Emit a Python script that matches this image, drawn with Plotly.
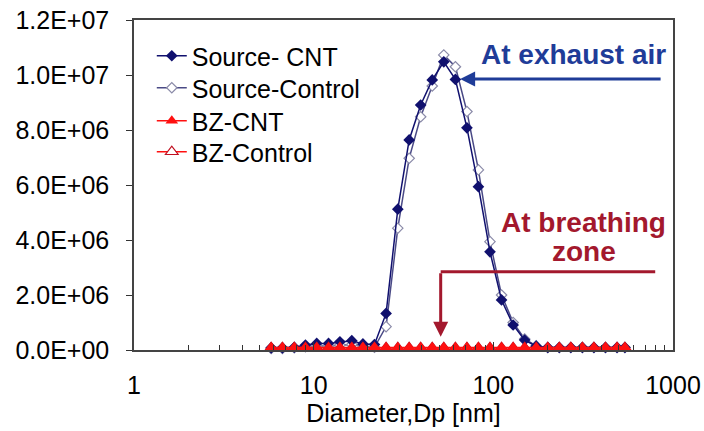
import plotly.graph_objects as go

# Particle diameters (nm), SMPS bin midpoints
diameters = [5.8, 6.7, 7.8, 9.0, 10.4, 12.1, 14.0, 16.3, 18.8, 21.8,
             25.3, 29.4, 34.0, 39.4, 45.7, 53.0, 61.5, 71.3, 82.6, 95.8,
             111.1, 128.9, 149.4, 173.2, 200.9, 232.9, 270.0, 313.1, 363.0,
             420.9, 488.1, 540.0]

source_cnt = [0.08e6, 0.08e6, 0.1e6, 0.18e6, 0.24e6, 0.24e6, 0.3e6, 0.34e6, 0.22e6, 0.2e6,
              1.33e6, 5.12e6, 7.64e6, 8.91e6, 9.82e6, 10.48e6, 9.84e6, 8.08e6, 5.94e6, 3.57e6,
              1.82e6, 0.91e6, 0.36e6, 0.14e6, 0.09e6, 0.09e6, 0.09e6, 0.09e6, 0.09e6,
              0.09e6, 0.09e6, 0.09e6]

source_control = [0.06e6, 0.06e6, 0.08e6, 0.12e6, 0.15e6, 0.15e6, 0.18e6, 0.2e6, 0.15e6, 0.1e6,
                  0.85e6, 4.43e6, 6.97e6, 8.48e6, 9.6e6, 10.73e6, 10.3e6, 8.67e6, 6.55e6, 3.94e6,
                  2.0e6, 1.0e6, 0.4e6, 0.15e6, 0.09e6, 0.09e6, 0.09e6, 0.09e6, 0.09e6,
                  0.09e6, 0.09e6, 0.09e6]

bz_cnt = [0.09e6, 0.09e6, 0.09e6, 0.09e6, 0.09e6, 0.09e6, 0.09e6, 0.09e6,
          0.09e6, 0.09e6, 0.09e6, 0.09e6, 0.09e6, 0.09e6, 0.09e6, 0.09e6,
          0.09e6, 0.09e6, 0.09e6, 0.09e6, 0.09e6, 0.09e6, 0.09e6, 0.09e6,
          0.09e6, 0.09e6, 0.09e6, 0.09e6, 0.09e6, 0.09e6, 0.09e6, 0.09e6]

bz_control = [0.08e6, 0.08e6, 0.08e6, 0.08e6, 0.08e6, 0.08e6, 0.08e6, 0.08e6,
              0.08e6, 0.08e6, 0.08e6, 0.08e6, 0.08e6, 0.08e6, 0.08e6, 0.08e6,
              0.08e6, 0.08e6, 0.08e6, 0.08e6, 0.08e6, 0.08e6, 0.08e6, 0.08e6,
              0.08e6, 0.08e6, 0.08e6, 0.08e6, 0.08e6, 0.08e6, 0.08e6, 0.08e6]

y_tick_vals = [0, 2e6, 4e6, 6e6, 8e6, 10e6, 12e6]
y_tick_text = ["0.0E+00", "2.0E+06", "4.0E+06", "6.0E+06", "8.0E+06", "1.0E+07", "1.2E+07"]
x_tick_vals = [1, 10, 100, 1000]
x_tick_text = ["1", "10", "100", "1000"]
x_minor_vals = [m * d for d in (1, 10, 100) for m in range(2, 10)]

FONT = "Liberation Sans, Arial, sans-serif"
NAVY = "#10106e"
CTRL = "#4a4a86"
RED = "#ff1010"
DARKRED = "#c01020"

fig = go.Figure()

fig.add_trace(go.Scatter(
    x=diameters, y=source_control, name="Source-Control", mode="lines+markers",
    line=dict(color=CTRL, width=1.5), cliponaxis=False,
    marker=dict(symbol="diamond", size=8, color="white", line=dict(color="#8a8aa8", width=1.2)),
    legend="legend2"))
fig.add_trace(go.Scatter(
    x=diameters, y=source_cnt, name="Source- CNT", mode="lines+markers",
    line=dict(color=NAVY, width=1.5), cliponaxis=False,
    marker=dict(symbol="diamond", size=9, color=NAVY, line=dict(width=0)),
    legend="legend"))
fig.add_trace(go.Scatter(
    x=diameters, y=bz_control, name="BZ-Control", mode="lines+markers",
    line=dict(color=RED, width=1.5), cliponaxis=False,
    marker=dict(symbol="triangle-up", size=11, color="white", line=dict(color=DARKRED, width=1.2)),
    legend="legend4"))
fig.add_trace(go.Scatter(
    x=diameters, y=bz_cnt, name="BZ-CNT", mode="lines+markers",
    line=dict(color=RED, width=1.5), cliponaxis=False,
    marker=dict(symbol="triangle-up", size=11, color=RED, line=dict(width=0)),
    legend="legend3"))

def leg(ypix):
    return dict(x=0.033, y=(350 - ypix) / 330, xanchor="left", yanchor="middle",
                bgcolor="rgba(255,255,255,0)", font=dict(size=25, family=FONT),
                itemwidth=30)

fig.update_layout(
    width=704, height=431,
    margin=dict(l=134, r=31, t=20, b=81, autoexpand=False),
    paper_bgcolor="white", plot_bgcolor="white",
    font=dict(family=FONT, size=25, color="black"),
    showlegend=True,
    legend=leg(56), legend2=leg(88), legend3=leg(121), legend4=leg(152),
    xaxis=dict(type="log", range=[0, 3], tickmode="array", tickvals=x_tick_vals,
               ticktext=x_tick_text, ticks="inside", ticklen=8, tickcolor="#333",
               showgrid=False, zeroline=False, showline=True, linecolor="#444",
               linewidth=1.5, mirror=True, ticklabelstandoff=12, automargin=False,
               minor=dict(tickmode="array", tickvals=x_minor_vals, ticks="inside",
                          ticklen=5, tickcolor="#333", showgrid=False),
               title=dict(text="Diameter,Dp [nm]", font=dict(size=25), standoff=0)),
    yaxis=dict(range=[0, 1.2e7], tickmode="array", tickvals=y_tick_vals,
               ticktext=y_tick_text, ticks="outside", ticklen=6, tickcolor="#333",
               showgrid=False, zeroline=False, showline=True, linecolor="#444",
               linewidth=1.5, mirror=True, ticklabelstandoff=12, automargin=False),
)

BLUE = "#1f3c98"
BZRED = "#a3182d"

# "At exhaust air" label and arrow
fig.add_annotation(text="<b>At exhaust air</b>", xref="paper", yref="paper",
                   x=0.816, y=0.894, xanchor="center", yanchor="middle", showarrow=False,
                   font=dict(size=28, color=BLUE, family=FONT))
fig.add_annotation(text="", xref="paper", yref="paper", x=0.605, y=0.821,
                   ax=202, ay=0, showarrow=True, arrowhead=2, arrowsize=1,
                   arrowwidth=3, arrowcolor=BLUE)

# "At breathing zone" label and arrow
fig.add_annotation(text="<b>At breathing</b>", xref="paper", yref="paper",
                   x=0.834, y=0.385, xanchor="center", yanchor="middle", showarrow=False,
                   font=dict(size=28, color=BZRED, family=FONT))
fig.add_annotation(text="<b>zone</b>", xref="paper", yref="paper",
                   x=0.834, y=0.297, xanchor="center", yanchor="middle", showarrow=False,
                   font=dict(size=28, color=BZRED, family=FONT))
fig.add_shape(type="line", xref="paper", yref="paper", x0=0.569, x1=0.967,
              y0=0.237, y1=0.237, line=dict(color=BZRED, width=3))
fig.add_annotation(text="", xref="paper", yref="paper", x=0.569, y=0.04,
                   ax=0, ay=-65, showarrow=True, arrowhead=2, arrowsize=1,
                   arrowwidth=3, arrowcolor=BZRED)

fig.write_html("out.html", post_script="document.body.style.margin='0';",
               config={"displayModeBar": False})
